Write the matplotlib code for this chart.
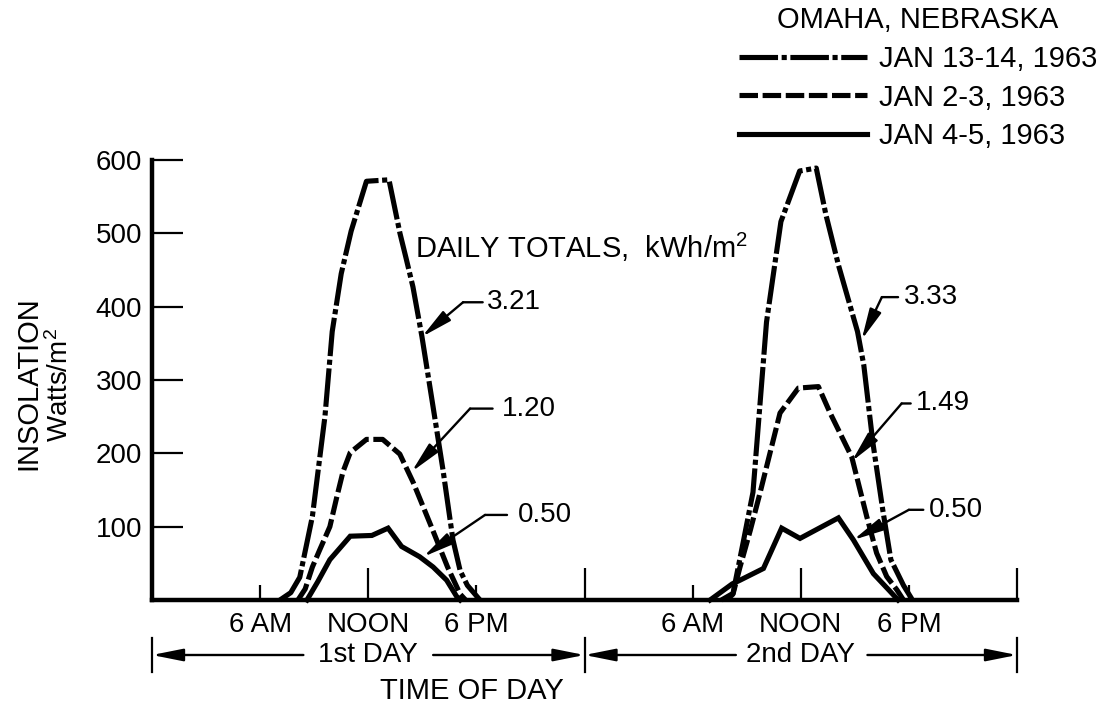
import matplotlib
matplotlib.use("Agg")
import matplotlib.pyplot as plt
from matplotlib.lines import Line2D

plt.rcParams['font.family'] = ['Liberation Sans Narrow', 'Liberation Sans', 'DejaVu Sans']
plt.rcParams['mathtext.fontset'] = 'custom'
plt.rcParams['mathtext.rm'] = 'Liberation Sans'
plt.rcParams['mathtext.it'] = 'Liberation Sans'

# ---------------- data (hours from midnight of 1st day, W/m^2) ----------------
jan13_day1_h = [7.1, 7.7, 8.2, 8.9, 9.6, 10.0, 10.5, 11.05, 11.9, 13.15, 13.76, 14.1, 14.48, 14.98, 15.6, 16.15, 16.7, 17.1, 17.5, 18.2]
jan13_day1_v = [0, 10, 31, 114, 251, 366, 445, 503, 571, 573, 500, 466, 427, 359, 263, 177, 82, 40, 20, 0]
jan13_day2_h = [31.6, 32.24, 32.8, 33.35, 34.1, 34.9, 35.94, 36.86, 37.4, 38.1, 39.15, 39.5, 40.0, 40.55, 41.0, 41.7, 42.2]
jan13_day2_v = [0, 9, 78, 147, 379, 516, 585, 589, 525, 456, 366, 320, 215, 123, 55, 20, 0]

jan2_day1_h = [8.1, 8.5, 8.9, 9.3, 9.87, 10.26, 10.6, 11.0, 11.9, 12.8, 13.75, 14.5, 15.5, 16.4, 17.1, 17.4]
jan2_day1_v = [0, 15, 45, 68, 100, 141, 175, 201, 219, 219, 199, 160, 100, 45, 8, 0]
jan2_day2_h = [31.9, 32.24, 32.63, 33.2, 33.74, 34.85, 35.87, 36.98, 37.63, 38.83, 39.66, 40.21, 40.77, 41.33, 41.7]
jan2_day2_v = [0, 8, 45, 95, 146, 255, 289, 291, 255, 195, 114, 64, 32, 14, 0]

jan4_day1_h = [8.6, 9.2, 9.87, 11.0, 12.2, 13.1, 13.85, 14.85, 15.6, 16.35, 16.9, 17.1]
jan4_day1_v = [0, 25, 55, 87, 88, 98, 73, 59, 45, 27, 5, 0]
jan4_day2_h = [30.97, 32.2, 32.63, 33.93, 34.94, 35.96, 38.09, 38.92, 40.03, 40.95, 41.4]
jan4_day2_v = [0, 22, 27, 43, 98, 84, 112, 82, 36, 12, 0]

series_labels = ['JAN 13-14, 1963', 'JAN 2-3, 1963', 'JAN 4-5, 1963']
daily_totals_day1 = ['3.21', '1.20', '0.50']
daily_totals_day2 = ['3.33', '1.49', '0.50']

major_ticks = [12, 24, 36, 48]
major_labels = ['NOON', '', 'NOON', '']
minor_ticks = [6, 18, 30, 42]
minor_labels = ['6 AM', '6 PM', '6 AM', '6 PM']
y_ticks = [100, 200, 300, 400, 500, 600]

# ---------------- styles ----------------
LW = 3.7
dashdot = (0, (7.5, 0.7, 1.0, 0.7))
dashed = (0, (3.6, 0.9))
solid = '-'
FS = 20
ARROW = '-|>,head_length=0.85,head_width=0.17'

fig = plt.figure(figsize=(11, 7.15), dpi=100)
ax = fig.add_axes([152 / 1100, 115 / 715, 865 / 1100, 440 / 715])
ax.set_xlim(0, 48)
ax.set_ylim(0, 600)

kw = dict(color='black', lw=LW, clip_on=False, dash_capstyle='butt', solid_joinstyle='miter')
l1, = ax.plot(jan13_day1_h, jan13_day1_v, linestyle=dashdot, label=series_labels[0], **kw)
ax.plot(jan13_day2_h, jan13_day2_v, linestyle=dashdot, **kw)
l2, = ax.plot(jan2_day1_h, jan2_day1_v, linestyle=dashed, label=series_labels[1], **kw)
ax.plot(jan2_day2_h, jan2_day2_v, linestyle=dashed, **kw)
l3, = ax.plot(jan4_day1_h, jan4_day1_v, linestyle=solid, label=series_labels[2], **kw)
ax.plot(jan4_day2_h, jan4_day2_v, linestyle=solid, **kw)

# spines
for s in ['top', 'right']:
    ax.spines[s].set_visible(False)
ax.spines['left'].set_linewidth(3.2)
ax.spines['bottom'].set_linewidth(3.2)
ax.spines['left'].set_capstyle('projecting')
ax.spines['bottom'].set_capstyle('projecting')

# ticks
ax.set_yticks(y_ticks)
ax.set_yticklabels([str(v) for v in y_ticks])
ax.tick_params(axis='y', direction='in', length=22, width=1.6, pad=7, labelsize=FS)
ax.set_xticks(major_ticks)
ax.set_xticklabels(major_labels)
ax.set_xticks(minor_ticks, minor=True)
ax.set_xticklabels(minor_labels, minor=True)
ax.tick_params(axis='x', which='major', direction='in', length=23, width=1.6, pad=9, labelsize=FS)
ax.tick_params(axis='x', which='minor', direction='in', length=11, width=1.6, pad=9, labelsize=FS)

# legend
leg = ax.legend(handles=[l1, l2, l3], title='OMAHA, NEBRASKA', loc='upper right',
                bbox_to_anchor=(1097 / 1100, 1 - 6 / 715), bbox_transform=fig.transFigure,
                frameon=False, fontsize=FS + 1, title_fontsize=FS + 1, handlelength=4.4,
                handletextpad=0.4, labelspacing=0.36, borderpad=0, borderaxespad=0)
leg._legend_box.sep = 8

# daily totals annotations
ax.text(14.6, 481, 'DAILY TOTALS,  kWh/m$^2$', fontsize=FS + 1, va='center', ha='left')

def leader(label, text_x, y, elbow_x, tip_x, tip_y, line_end_x):
    ax.text(text_x, y, label, fontsize=FS, va='center', ha='left')
    ax.annotate('', xy=(elbow_x, y), xytext=(line_end_x, y),
                arrowprops=dict(arrowstyle='-', lw=1.7, color='black', shrinkA=0, shrinkB=0))
    ax.annotate('', xy=(tip_x, tip_y), xytext=(elbow_x, y),
                arrowprops=dict(arrowstyle=ARROW, lw=1.7, color='black',
                                shrinkA=0, shrinkB=0, mutation_scale=22))

leader(daily_totals_day1[0], 18.6, 406, 17.26, 14.98, 359, 18.35)
leader(daily_totals_day1[1], 19.42, 261, 17.65, 14.41, 175, 18.9)
leader(daily_totals_day1[2], 20.31, 116, 18.48, 15.06, 59, 19.7)
leader(daily_totals_day2[0], 41.7, 413, 40.5, 39.38, 355, 41.4)
leader(daily_totals_day2[1], 42.4, 268, 41.6, 38.83, 189, 42.1)
leader(daily_totals_day2[2], 43.1, 123, 42.0, 38.92, 82, 42.8)

# day spans below the axis
trans = ax.get_xaxis_transform()
yarr = (600 - 655) / 440
for xb in [0, 24, 48]:
    ax.add_line(Line2D([xb, xb], [(600 - 638) / 440, (600 - 672) / 440], transform=trans,
                       color='black', lw=1.6, clip_on=False))
for (txt, xc) in [('1st DAY', 12), ('2nd DAY', 36)]:
    ax.text(xc, yarr, txt, transform=trans, fontsize=FS, ha='center', va='center')
for (x0, x1) in [(8.4, 0), (15.6, 24), (32.4, 24), (39.7, 48)]:
    ax.annotate('', xy=(x1, yarr), xytext=(x0, yarr), xycoords=trans, textcoords=trans,
                arrowprops=dict(arrowstyle=ARROW, lw=1.7, color='black',
                                shrinkA=0, shrinkB=0, mutation_scale=22))

fig.text(472 / 1100, 1 - 691 / 715, 'TIME OF DAY', fontsize=FS + 1, ha='center', va='center')
fig.text(28 / 1100, 1 - 383 / 715, 'INSOLATION', fontsize=FS + 1, rotation=90, ha='center', va='center')
fig.text(60 / 1100, 1 - 385 / 715, 'Watts/m$^2$', fontsize=FS, rotation=90, ha='center', va='center')

fig.savefig('out.png', dpi=100, facecolor='white')
